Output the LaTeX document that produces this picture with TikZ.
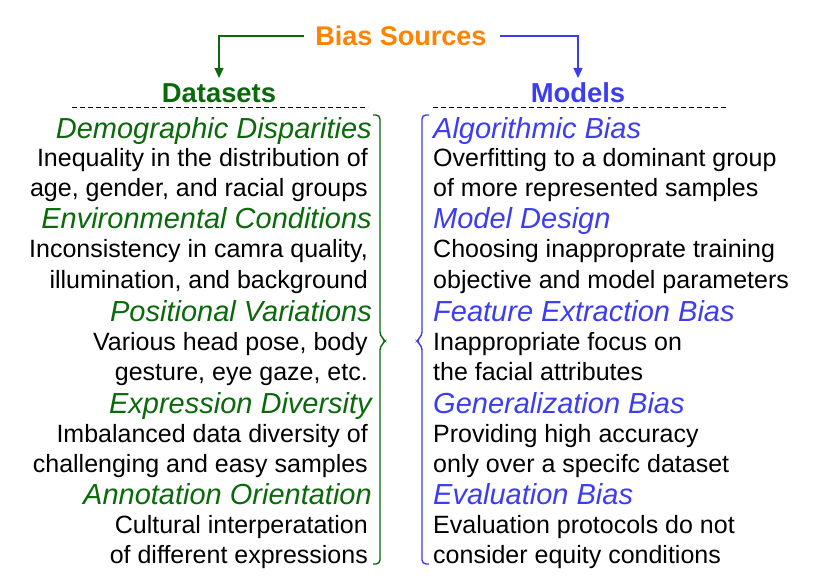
\documentclass[tikz,border=0pt]{standalone}
\usepackage{fontspec}
\setmainfont{Liberation Sans}
\usetikzlibrary{arrows.meta}
\definecolor{dgreen}{RGB}{10,105,10}
\definecolor{mblue}{RGB}{60,60,240}
\definecolor{borange}{RGB}{255,130,0}
\tikzset{
  body/.style={inner sep=0pt, font=\fontsize{25}{25}\selectfont, text=black},
  lhead/.style={inner sep=0pt, font=\fontsize{29}{29}\selectfont\itshape, text=dgreen},
  rhead/.style={inner sep=0pt, font=\fontsize{29}{29}\selectfont\itshape, text=mblue},
  colhead/.style={inner sep=0pt, font=\fontsize{27.4}{27.4}\selectfont\bfseries},
  dashline/.style={dashed, dash pattern=on 5pt off 3pt, line width=0.8pt, black},
  bracebar/.style={rounded corners=4pt, line width=1.4pt},
  conn/.style={line width=1.3pt, -{Triangle[length=10pt,width=9pt]}}
}
\begin{document}
\begin{tikzpicture}[x=1pt,y=-1pt]
\useasboundingbox (0,0) rectangle (814,588);
\node[inner sep=0pt, font=\fontsize{27}{27}\selectfont\bfseries, text=borange] (title) at (401,36) {Bias Sources};
\node[colhead, text=dgreen, anchor=base] (ds) at (219,103) {Datasets};
\node[colhead, text=mblue, anchor=base] (md) at (578,103) {Models};
\coordinate (dsa) at (219,78);
\coordinate (mda) at (578,78);
\draw[conn, dgreen] ([xshift=-11pt]title.west) -| (dsa);
\draw[conn, mblue] ([xshift=13pt]title.east) -| (mda);
\coordinate (l1) at (72,107); \coordinate (l2) at (368,107);
\coordinate (r1) at (433,107); \coordinate (r2) at (728,107);
\draw[dashline] (l1) -- (l2);
\draw[dashline] (r1) -- (r2);
% left column
\node[lhead, anchor=base east] (a1) at (372,139) {Demographic Disparities};
\node[body, anchor=base east] (a1b) at (368,167) {Inequality in the distribution of};
\node[body, anchor=base east] (a1c) at (368,197) {age, gender, and racial groups};
\node[lhead, anchor=base east] (a2) at (372,229) {Environmental Conditions};
\node[body, anchor=base east] (a2b) at (368,258) {Inconsistency in camra quality,};
\node[body, anchor=base east] (a2c) at (368,288) {illumination, and background};
\node[lhead, anchor=base east] (a3) at (372,321) {Positional Variations};
\node[body, anchor=base east] (a3b) at (368,350) {Various head pose, body};
\node[body, anchor=base east] (a3c) at (368,380) {gesture, eye gaze, etc.};
\node[lhead, anchor=base east] (a4) at (372,413) {Expression Diversity};
\node[body, anchor=base east] (a4b) at (368,442) {Imbalanced data diversity of};
\node[body, anchor=base east] (a4c) at (368,472) {challenging and easy samples};
\node[lhead, anchor=base east] (a5) at (372,504) {Annotation Orientation};
\node[body, anchor=base east] (a5b) at (368,533) {Cultural interperatation};
\node[body, anchor=base east] (a5c) at (368,563) {of different expressions};
% right column
\node[rhead, anchor=base west] (b1) at (433,139) {Algorithmic Bias};
\node[body, anchor=base west] (b1b) at (433,167) {Overfitting to a dominant group};
\node[body, anchor=base west] (b1c) at (433,197) {of more represented samples};
\node[rhead, anchor=base west] (b2) at (433,229) {Model Design};
\node[body, anchor=base west] (b2b) at (433,258) {Choosing inapproprate training};
\node[body, anchor=base west] (b2c) at (433,288) {objective and model parameters};
\node[rhead, anchor=base west] (b3) at (433,321) {Feature Extraction Bias};
\node[body, anchor=base west] (b3b) at (433,350) {Inappropriate focus on};
\node[body, anchor=base west] (b3c) at (433,380) {the facial attributes};
\node[rhead, anchor=base west] (b4) at (433,413) {Generalization Bias};
\node[body, anchor=base west] (b4b) at (433,442) {Providing high accuracy};
\node[body, anchor=base west] (b4c) at (433,472) {only over a specifc dataset};
\node[rhead, anchor=base west] (b5) at (433,504) {Evaluation Bias};
\node[body, anchor=base west] (b5b) at (433,533) {Evaluation protocols do not};
\node[body, anchor=base west] (b5c) at (433,563) {consider equity conditions};
% braces
\draw[bracebar, dgreen] (373,115) -- (380,115) -- (380,336) -- (386,341)
  -- (380,346) -- (380,564) -- (373,564);
\draw[bracebar, mblue] (429,115) -- (422,115) -- (422,336) -- (416,341)
  -- (422,346) -- (422,564) -- (429,564);
\end{tikzpicture}
\end{document}
